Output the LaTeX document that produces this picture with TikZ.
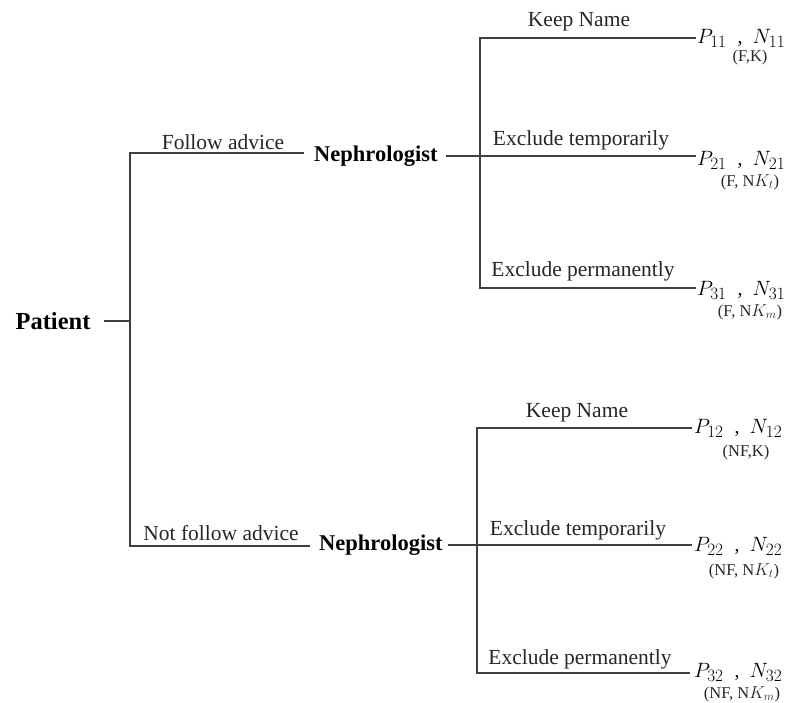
\documentclass[tikz,border=0pt]{standalone}
\usepackage{fontspec}
\setmainfont{Liberation Serif}
\DeclareMathSizes{20}{20}{16}{12}
\newcommand{\payoff}[2]{$P_{#1}$\hspace{11pt},\hspace{10pt}$N_{#2}$}
\begin{document}
\begin{tikzpicture}[x=1pt,y=-1pt,
  ln/.style={draw=black!75,line width=1.1pt},
  lbl/.style={inner sep=0pt,font=\fontsize{21.5}{25}\selectfont,text=black!85},
  bld/.style={inner sep=0pt,font=\fontsize{22.5}{26}\selectfont\bfseries,text=black},
  pay/.style={inner sep=0pt,anchor=west,font=\fontsize{20}{24}\selectfont},
  sml/.style={inner sep=0pt,font=\fontsize{16.5}{20}\selectfont,text=black!85}]
\useasboundingbox (0,0) rectangle (802,702);
% root
\node[bld,font=\fontsize{24.5}{28}\selectfont\bfseries] (pat) at (53,321) {Patient};
\coordinate (pj) at (130,321);
\coordinate (t1) at (130,153);
\coordinate (t1e) at (304,153);
\coordinate (b1) at (130,546);
\coordinate (b1e) at (310,546);
\draw[ln] ([xshift=13pt]pat.east) -- (pj);
\draw[ln] (t1e) -- (t1) -- (b1) -- (b1e);
\node[lbl] (fa) at (223,142) {Follow advice};
\node[lbl] (nfa) at (221,533) {Not follow advice};
% top subtree
\node[bld,anchor=west] (n1) at (314,156) {Nephrologist};
\coordinate (k1) at (480,156);
\coordinate (k1t) at (480,38);
\coordinate (k1b) at (480,288);
\coordinate (e11) at (696,38);
\coordinate (e21) at (696,156);
\coordinate (e31) at (696,288);
\draw[ln] ([xshift=8pt]n1.east) -- (k1);
\draw[ln] (e11) -- (k1t) -- (k1b) -- (e31);
\draw[ln] (k1) -- (e21);
\node[lbl] (kn1) at (579,22) {Keep Name};
\node[lbl] (et1) at (581,140) {Exclude temporarily};
\node[lbl] (ep1) at (583,271) {Exclude permanently};
\node[pay] (p11) at (697,38) {\payoff{11}{11}};
\node[sml] (s11) at (750,58) {(F,K)};
\node[pay] (p21) at (697,160) {\payoff{21}{21}};
\node[sml] (s21) at (750,182) {(F, N$K_t$)};
\node[pay] (p31) at (697,290) {\payoff{31}{31}};
\node[sml] (s31) at (750,312) {(F, N$K_m$)};
% bottom subtree
\node[bld,anchor=west] (n2) at (319,545) {Nephrologist};
\coordinate (k2) at (477,545);
\coordinate (k2t) at (477,428);
\coordinate (k2b) at (477,673);
\coordinate (e12) at (692,428);
\coordinate (e22) at (692,545);
\coordinate (e32) at (690,673);
\draw[ln] ([xshift=5pt]n2.east) -- (k2);
\draw[ln] (e12) -- (k2t) -- (k2b) -- (e32);
\draw[ln] (k2) -- (e22);
\node[lbl] (kn2) at (577,413) {Keep Name};
\node[lbl] (et2) at (578,530) {Exclude temporarily};
\node[lbl] (ep2) at (580,659) {Exclude permanently};
\node[pay] (p12) at (694,428) {\payoff{12}{12}};
\node[sml] (s12) at (746,453) {(NF,K)};
\node[pay] (p22) at (694,546) {\payoff{22}{22}};
\node[sml] (s22) at (744,571) {(NF, N$K_t$)};
\node[pay] (p32) at (694,672) {\payoff{32}{32}};
\node[sml] (s32) at (742,694) {(NF, N$K_m$)};
\end{tikzpicture}
\end{document}
